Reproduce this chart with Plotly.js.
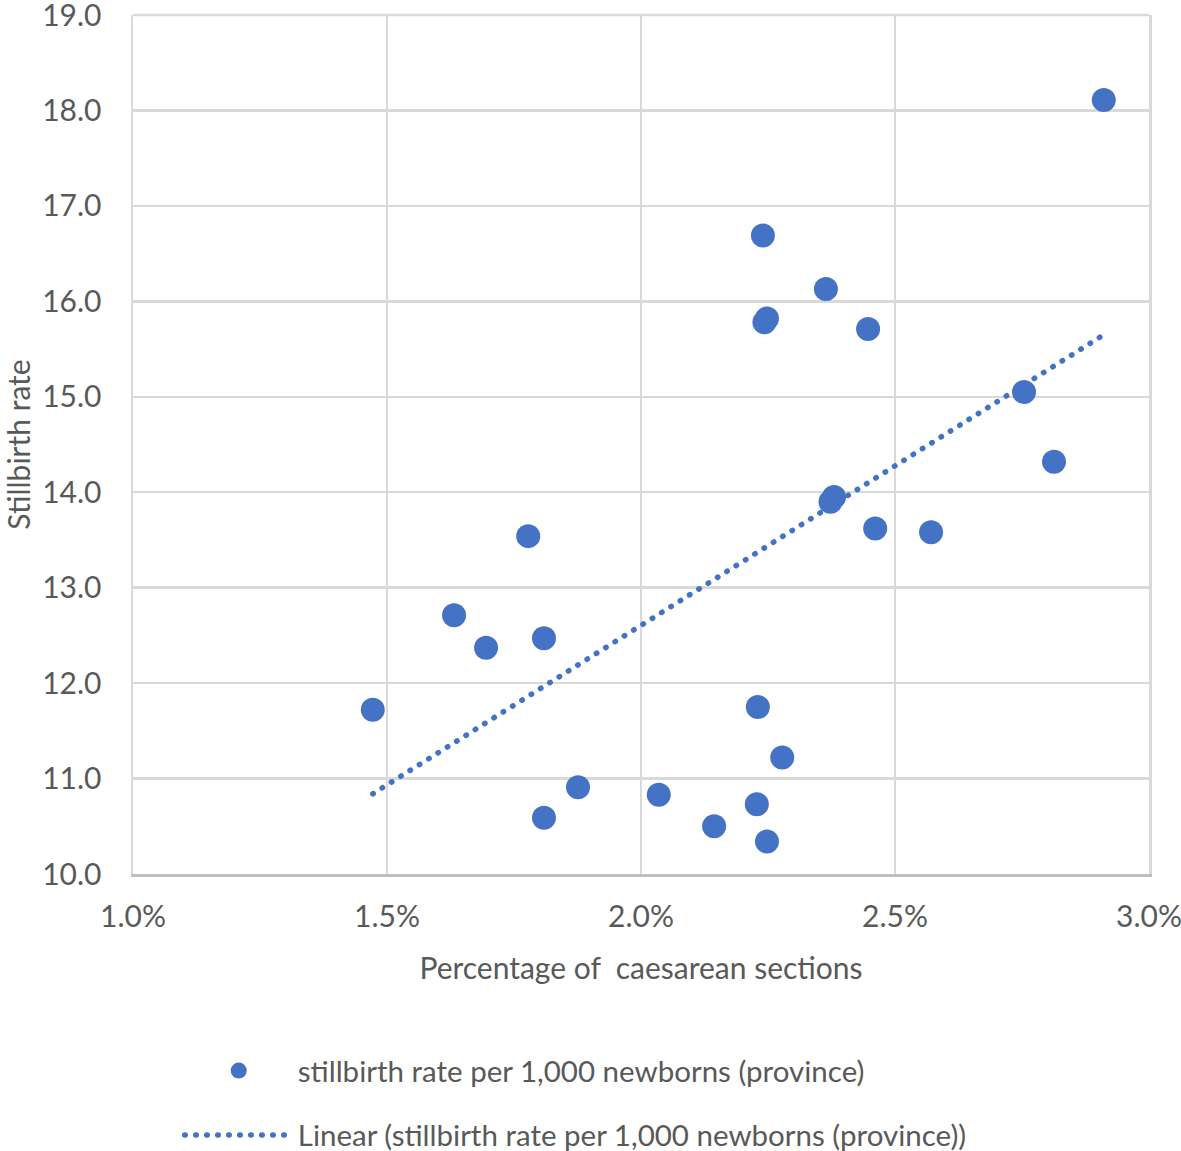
<!DOCTYPE html>
<html>
<head>
<meta charset="utf-8">
<script src="https://cdn.plot.ly/plotly-3.0.1.min.js"></script>
<style>
  html, body { margin: 0; padding: 0; background: #fff; }
  #chart { width: 1181px; height: 1151px; }
  .scatterlayer .trace path.js-line { stroke-linecap: round !important; }
  .legend .legendlines path.js-line { stroke-linecap: round !important; }
</style>
</head>
<body>
<div id="chart"></div>
<script>
// Caesarean share (fraction) and stillbirth rate per 1,000 newborns, one per province
const caesareanShare = [
    0.02911, 0.02240, 0.02364, 0.02248, 0.02243, 0.02447, 0.02754, 0.02813,
    0.02380, 0.02373, 0.02461, 0.02571, 0.01778, 0.01632, 0.01695, 0.01809,
    0.01472, 0.02230, 0.02278, 0.01876, 0.02035, 0.01809, 0.02144, 0.02228,
    0.02248
];
const stillbirthRate = [
    18.11, 16.69, 16.13, 15.82, 15.78, 15.71, 15.05, 14.32,
    13.95, 13.90, 13.62, 13.58, 13.54, 12.71, 12.37, 12.47,
    11.72, 11.75, 11.22, 10.91, 10.83, 10.59, 10.50, 10.73,
    10.34
];

// Linear trendline end points as drawn in the chart
const trendX = [0.01472, 0.02911];
const trendY = [10.84, 15.65];

const seriesName = 'stillbirth rate per 1,000 newborns (province)';
const blue = '#4472C4';
const grey = '#595959';
const gridGrey = '#d9d9d9';
const font = 'Lato, "Open Sans", sans-serif';

const data = [
    {
        type: 'scatter',
        mode: 'markers',
        x: caesareanShare,
        y: stillbirthRate,
        name: seriesName,
        legendgroup: 'points',
        marker: { size: 24, color: blue, line: { width: 0 } },
        cliponaxis: false
    },
    {
        type: 'scatter',
        mode: 'lines',
        x: trendX,
        y: trendY,
        name: 'Linear (' + seriesName + ')',
        legendgroup: 'trend',
        line: { color: blue, width: 5.5, dash: '0.5px,10.5px' }
    }
];

const layout = {
    width: 1181,
    height: 1151,
    paper_bgcolor: '#fff',
    plot_bgcolor: '#fff',
    font: { family: font, color: grey, size: 30 },
    margin: { l: 133, r: 32, t: 15, b: 277, pad: 0, autoexpand: false },
    showlegend: true,
    legend: {
        orientation: 'v',
        x: 0.046,
        xanchor: 'left',
        y: -0.199,
        yanchor: 'top',
        font: { family: font, size: 29.5, color: grey },
        itemwidth: 108,
        tracegroupgap: 23,
        bgcolor: 'rgba(0,0,0,0)'
    },
    // top border of the plot area
    shapes: [
        {
            type: 'line', xref: 'paper', yref: 'paper',
            x0: 0, x1: 1, y0: 1, y1: 1,
            line: { color: gridGrey, width: 2.5 }
        }
    ],
    xaxis: {
        range: [0.01, 0.03],
        dtick: 0.005,
        tick0: 0.01,
        tickformat: '.1%',
        showgrid: true,
        gridcolor: gridGrey,
        gridwidth: 2.5,
        zeroline: false,
        showline: true,
        linecolor: '#bfbfbf',
        linewidth: 2.5,
        ticks: '',
        ticklabelstandoff: 14,
        ticklabeloverflow: 'allow',
        tickfont: { size: 30, color: grey },
        title: {
            text: 'Percentage of\u00a0 caesarean sections',
            font: { size: 30, color: grey },
            standoff: 27
        },
        automargin: false
    },
    yaxis: {
        range: [10, 19],
        dtick: 1,
        tick0: 10,
        tickformat: '.1f',
        showgrid: true,
        gridcolor: gridGrey,
        gridwidth: 2.5,
        zeroline: false,
        showline: true,
        mirror: true,
        linecolor: gridGrey,
        linewidth: 2.5,
        ticks: '',
        ticklabelstandoff: 23,
        ticklabeloverflow: 'allow',
        tickfont: { size: 30, color: grey },
        title: {
            text: 'Stillbirth rate',
            font: { size: 30, color: grey },
            standoff: 34
        },
        automargin: false
    }
};

Plotly.newPlot('chart', data, layout, { staticPlot: true, displayModeBar: false });
</script>
</body>
</html>
